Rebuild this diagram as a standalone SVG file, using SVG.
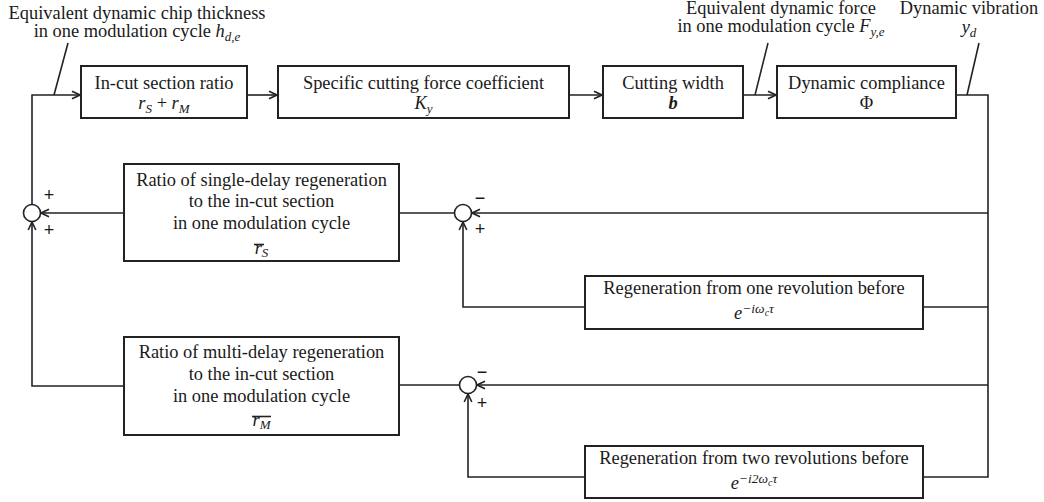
<svg xmlns="http://www.w3.org/2000/svg" width="1044" height="502" viewBox="0 0 1044 502">
<style>
.box{fill:#fff;stroke:#222;stroke-width:2}
.ln{fill:none;stroke:#222;stroke-width:1.6}
.sj{fill:#fff;stroke:#222;stroke-width:1.6}
.t{font-family:"Liberation Serif",serif;font-size:18.4px;fill:#1a1a1a;text-anchor:middle}
.m{font-family:"Liberation Serif",serif;font-style:italic}
.s{font-size:13px}
.sg{font-family:"Liberation Sans",sans-serif;font-size:18px;fill:#1a1a1a;text-anchor:middle}
</style>
<defs>
<marker id="ah" markerWidth="10" markerHeight="10" refX="9" refY="5" orient="auto" markerUnits="userSpaceOnUse">
<path d="M1,1.2 L9,5 L1,8.8" fill="none" stroke="#222" stroke-width="1.6"/>
</marker>
</defs>
<rect width="1044" height="502" fill="#fff"/>

<g id="connectors">
<path class="ln" d="M32,204.5 V95 H80" marker-end="url(#ah)"/>
<path class="ln" d="M247,95 H277" marker-end="url(#ah)"/>
<path class="ln" d="M569,95 H602" marker-end="url(#ah)"/>
<path class="ln" d="M743,95 H776" marker-end="url(#ah)"/>
<path class="ln" d="M956,95 H988 V477 H923"/>
<path class="ln" d="M988,213 H472" marker-end="url(#ah)"/>
<path class="ln" d="M454.5,213 H399"/>
<path class="ln" d="M124,213 H41" marker-end="url(#ah)"/>
<path class="ln" d="M988,307 H923"/>
<path class="ln" d="M585,307 H463 V222" marker-end="url(#ah)"/>
<path class="ln" d="M988,385 H477" marker-end="url(#ah)"/>
<path class="ln" d="M459.5,385 H399"/>
<path class="ln" d="M124,386 H32 V222" marker-end="url(#ah)"/>
<path class="ln" d="M585,477 H468 V394" marker-end="url(#ah)"/>
<path class="ln" d="M54,95 L68,43"/>
<path class="ln" d="M755,95 L768,43"/>
<path class="ln" d="M967,95 L979,43"/>
</g>

<g id="label-chip">
<text class="t" x="137" y="19">Equivalent dynamic chip thickness</text>
<text class="t" x="137" y="37">in one modulation cycle <tspan class="m">h</tspan><tspan class="m s" dy="4">d,e</tspan></text>
</g>
<g id="label-force">
<text class="t" x="781" y="14">Equivalent dynamic force</text>
<text class="t" x="781" y="32">in one modulation cycle <tspan class="m">F</tspan><tspan class="m s" dy="4">y,e</tspan></text>
</g>
<g id="label-vibration">
<text class="t" x="969" y="14">Dynamic vibration</text>
<text class="t" x="969" y="33"><tspan class="m">y</tspan><tspan class="m s" dy="4">d</tspan></text>
</g>

<g id="incut">
<rect class="box" x="81" y="66" width="166" height="52"/>
<text class="t" x="164" y="89">In-cut section ratio</text>
<text class="t" x="164" y="109"><tspan class="m">r</tspan><tspan class="m s" dy="4">S</tspan><tspan dy="-4"> + </tspan><tspan class="m">r</tspan><tspan class="m s" dy="4">M</tspan></text>
</g>
<g id="coef">
<rect class="box" x="278" y="66" width="291" height="52"/>
<text class="t" x="423.5" y="89">Specific cutting force coefficient</text>
<text class="t" x="423.5" y="109"><tspan class="m">K</tspan><tspan class="m s" dy="4">y</tspan></text>
</g>
<g id="width">
<rect class="box" x="603" y="66" width="140" height="52"/>
<text class="t" x="673" y="89">Cutting width</text>
<text class="t m" x="673" y="109" font-weight="bold">b</text>
</g>
<g id="compliance">
<rect class="box" x="777" y="66" width="179" height="52"/>
<text class="t" x="866.5" y="89">Dynamic compliance</text>
<text class="t" x="866.5" y="109">Φ</text>
</g>

<g id="sum-left">
<circle class="sj" cx="32" cy="213" r="8.5"/>
<text class="sg" x="49" y="201">+</text>
<text class="sg" x="49" y="236">+</text>
</g>
<g id="sum-s">
<circle class="sj" cx="463" cy="213" r="8.5"/>
<text class="sg" x="480" y="204">−</text>
<text class="sg" x="480" y="235">+</text>
</g>
<g id="sum-m">
<circle class="sj" cx="468" cy="385" r="8.5"/>
<text class="sg" x="482" y="378">−</text>
<text class="sg" x="482" y="409">+</text>
</g>

<g id="ratio-single">
<rect class="box" x="124" y="164" width="275" height="97"/>
<text class="t" x="261.5" y="186">Ratio of single-delay regeneration</text>
<text class="t" x="261.5" y="207">to the in-cut section</text>
<text class="t" x="261.5" y="229">in one modulation cycle</text>
<text class="t" x="261.5" y="254"><tspan class="m">r</tspan><tspan class="m s" dy="3">S</tspan></text>
<line class="ln" x1="254" y1="244.5" x2="264" y2="244.5" stroke-width="1.2"/>
</g>
<g id="ratio-multi">
<rect class="box" x="124" y="337" width="275" height="98"/>
<text class="t" x="261.5" y="358">Ratio of multi-delay regeneration</text>
<text class="t" x="261.5" y="380">to the in-cut section</text>
<text class="t" x="261.5" y="402">in one modulation cycle</text>
<text class="t" x="261.5" y="426"><tspan class="m">r</tspan><tspan class="m s" dy="3">M</tspan></text>
<line class="ln" x1="252" y1="416.5" x2="271" y2="416.5" stroke-width="1.2"/>
</g>

<g id="regen-one">
<rect class="box" x="585" y="276" width="338" height="53"/>
<text class="t" x="754" y="294">Regeneration from one revolution before</text>
<text class="t" x="754" y="319"><tspan class="m">e</tspan><tspan class="m" font-size="13.5" dy="-6">−iω</tspan><tspan class="m" font-size="10" dy="3">c</tspan><tspan class="m" font-size="13.5" dy="-3">τ</tspan></text>
</g>
<g id="regen-two">
<rect class="box" x="585" y="446" width="338" height="52"/>
<text class="t" x="754" y="464">Regeneration from two revolutions before</text>
<text class="t" x="754" y="489"><tspan class="m">e</tspan><tspan class="m" font-size="13.5" dy="-6">−i2ω</tspan><tspan class="m" font-size="10" dy="3">c</tspan><tspan class="m" font-size="13.5" dy="-3">τ</tspan></text>
</g>
</svg>
